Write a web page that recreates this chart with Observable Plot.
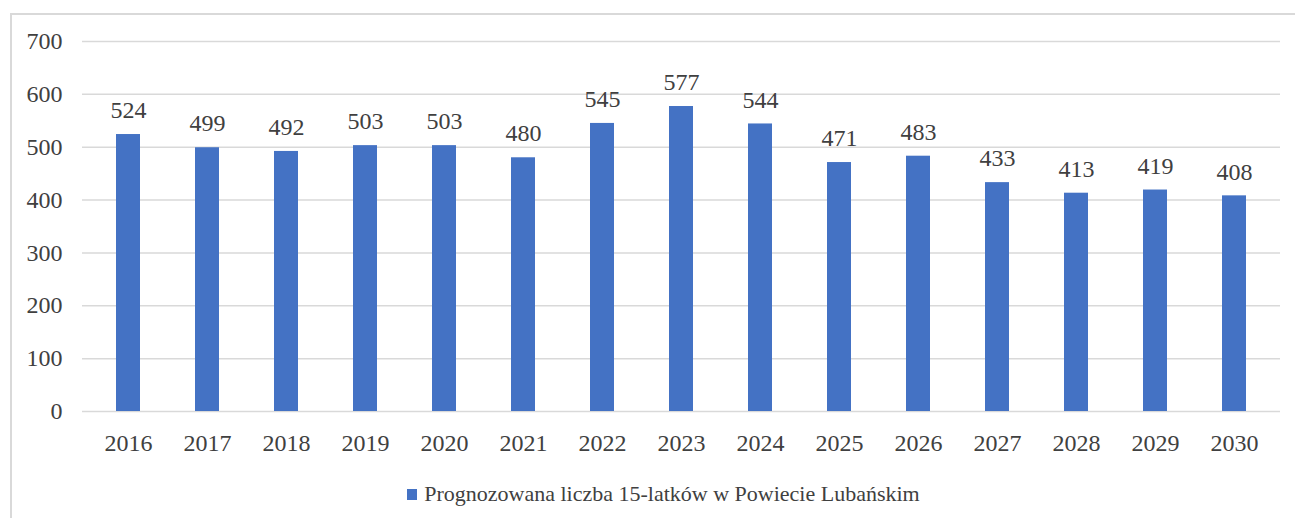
<!DOCTYPE html>
<html>
<head>
<meta charset="utf-8">
<script src="https://cdn.jsdelivr.net/npm/d3@7"></script>
<script src="https://cdn.jsdelivr.net/npm/@observablehq/plot@0.6"></script>
<style>
  html, body { margin: 0; padding: 0; background: #fff; }
  #wrap { position: relative; width: 1295px; height: 518px; overflow: hidden; font-family: "Liberation Serif", "Times New Roman", serif; }
  #frame { position: absolute; left: 10px; top: 13px; width: 1400px; height: 600px; border-left: 2px solid #d9d9d9; border-top: 2px solid #d9d9d9; }
  #chart { position: absolute; left: 0; top: 0; }
  #chart svg, #chart svg text { font-family: "Liberation Serif", "Times New Roman", serif !important; }
  #legend { position: absolute; top: 481px; left: 16px; width: 1295px; text-align: center; font-size: 22px; line-height: 25px; color: #404040; font-family: "Liberation Serif", serif; }
  #legend .sw { display: inline-block; width: 10px; height: 11px; background: #4472c4; margin-right: 7px; vertical-align: 1px; }
</style>
</head>
<body>
<div id="wrap">
  <div id="frame"></div>
  <div id="chart"></div>
  <div id="legend"><span class="sw"></span>Prognozowana liczba 15-latków w Powiecie Lubańskim</div>
</div>
<script>
const years = ["2016","2017","2018","2019","2020","2021","2022","2023","2024","2025","2026","2027","2028","2029","2030"];
const values = [524, 499, 492, 503, 503, 480, 545, 577, 544, 471, 483, 433, 413, 419, 408];
const yTicks = [0, 100, 200, 300, 400, 500, 600, 700];

const data = years.map((y, i) => ({year: y, value: values[i]}));
const serif = "Liberation Serif, Times New Roman, serif";

const chart = Plot.plot({
  width: 1295,
  height: 460,
  marginTop: 41,
  marginBottom: 49,
  marginLeft: 82,
  marginRight: 15,
  style: {fontFamily: serif, fontSize: "24px", color: "#404040", background: "transparent"},
  x: {domain: years, paddingInner: 0.7, paddingOuter: 0.35, label: null},
  y: {domain: [0, 700], ticks: yTicks, label: null},
  marks: [
    Plot.gridY(yTicks, {stroke: "#d9d9d9", strokeOpacity: 1, strokeWidth: 1.5}),
    Plot.barY(data, {x: "year", y: "value", fill: "#4472c4"}),
    Plot.text(data, {x: "year", y: "value", text: d => String(d.value), dy: -24, fill: "#404040", fontSize: 24, fontFamily: serif}),
    Plot.axisY(yTicks, {tickSize: 0, tickPadding: 20, fontSize: 24, fontFamily: serif, fill: "#404040", label: null}),
    Plot.axisX({tickSize: 0, tickPadding: 22, fontSize: 24, fontFamily: serif, fill: "#404040", label: null})
  ]
});
document.getElementById("chart").appendChild(chart);
</script>
</body>
</html>
